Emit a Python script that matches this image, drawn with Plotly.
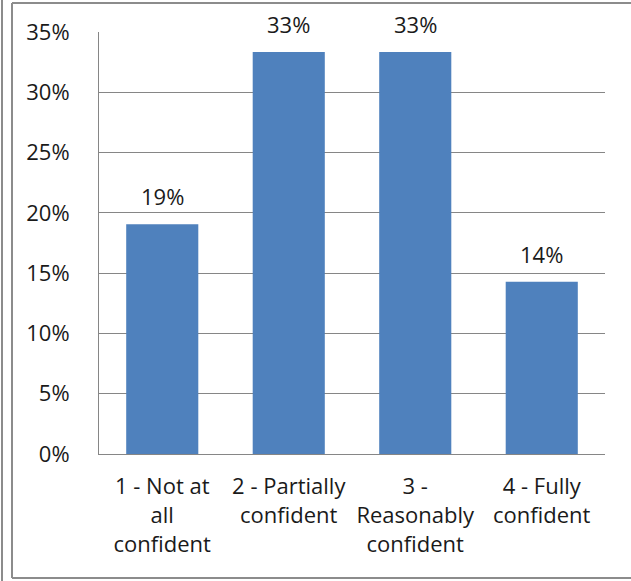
import plotly.graph_objs as go

# Survey responses (21 total)
categories = ["1 - Not at<br>all<br>confident", "2 - Partially<br>confident",
              "3 -<br>Reasonably<br>confident", "4 - Fully<br>confident"]
shares = [4 / 21, 7 / 21, 7 / 21, 3 / 21]
y_ticks = [0, 0.05, 0.10, 0.15, 0.20, 0.25, 0.30, 0.35]

W, H = 631, 581
ML, MR, MT, MB = 99, 26, 32, 127
pw, ph = W - ML - MR, H - MT - MB


def px_x(x):
    return (x - ML) / pw


def px_y(y):
    return (H - MB - y) / ph


font = dict(family="Open Sans, Liberation Sans, sans-serif", size=22, color="#1a1a1a")

fig = go.Figure(go.Bar(
    x=categories,
    y=shares,
    marker=dict(color="#4f81bd", line=dict(width=0)),
    hoverinfo="x+y",
))

# value labels above the bars
for cat, v in zip(categories, shares):
    fig.add_annotation(x=cat, y=v, text=f"{v:.0%}", showarrow=False,
                       yanchor="bottom", yshift=11, font=font)

# outer frame
frame = dict(type="line", xref="paper", yref="paper", line=dict(color="#8c8c8c", width=2))
shapes = [
    dict(frame, x0=px_x(2), x1=px_x(2), y0=px_y(0), y1=px_y(H)),
    dict(frame, x0=px_x(12), x1=px_x(12), y0=px_y(3), y1=px_y(578)),
    dict(frame, x0=px_x(12), x1=px_x(W), y0=px_y(3), y1=px_y(3)),
    dict(frame, x0=px_x(12), x1=px_x(W), y0=px_y(578), y1=px_y(578)),
]

fig.update_layout(
    width=W, height=H,
    margin=dict(l=ML, r=MR, t=MT, b=MB),
    paper_bgcolor="white", plot_bgcolor="white",
    font=font,
    bargap=0.43,
    showlegend=False,
    shapes=shapes,
    xaxis=dict(showline=True, linecolor="#868686", linewidth=1,
               showgrid=False, ticks="", tickfont=font, fixedrange=True,
               ticklabelstandoff=13),
    yaxis=dict(range=[0, 0.35], tickvals=y_ticks, tickformat=".0%",
               showgrid=True, gridcolor="#868686", gridwidth=1,
               showline=True, linecolor="#868686", linewidth=1,
               zeroline=False, ticks="", ticklabelstandoff=24,
               tickfont=font, fixedrange=True),
)

fig.write_html("out.html", config={"displayModeBar": False})

# drop the default page margin so the figure sits at the window corner
with open("out.html", encoding="utf-8") as f:
    page = f.read()
page = page.replace("<body>", '<body style="margin:0">', 1)
with open("out.html", "w", encoding="utf-8") as f:
    f.write(page)
